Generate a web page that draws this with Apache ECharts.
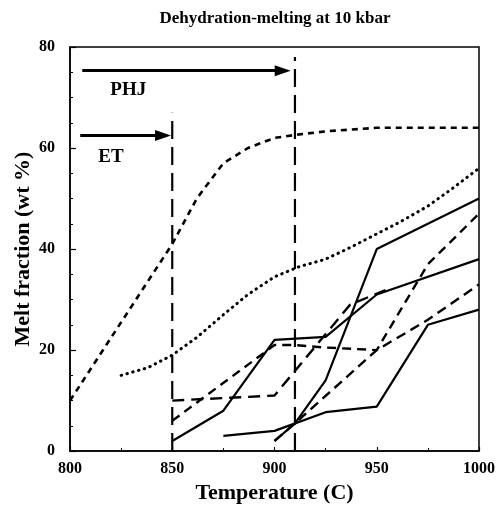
<!DOCTYPE html>
<html>
<head>
<meta charset="utf-8">
<script src="https://cdn.jsdelivr.net/npm/echarts@6/dist/echarts.min.js"></script>
<style>html,body{margin:0;padding:0;background:#fff}#c{width:498px;height:509px}</style>
</head>
<body>
<div id="c"></div>
<script>
// ---- data ----
const xTicks = [800, 850, 900, 950, 1000];
const yTicks = [0, 20, 40, 60, 80];
// short-dashed upper curve
const c1T = [800, 850, 862, 875, 887, 900, 912, 925, 950, 1000];
const c1V = [10, 41, 50, 57, 60, 62, 62.7, 63.3, 64, 64];
// dotted curve
const c2T = [825, 838, 850, 862, 875, 887, 900, 912, 925, 937, 950, 962, 975, 987, 1000];
const c2V = [15, 16.5, 19, 22.5, 27, 31, 34.5, 36.5, 38, 40.3, 43, 45.5, 48.5, 52, 56];
// solid curves
const s1T = [850, 875, 900, 925, 950, 1000];
const s1V = [2, 8, 22, 22.6, 31, 38];
const s2T = [900, 910, 925, 950, 1000];
const s2V = [2, 5.5, 14, 40, 50];
const s3T = [875, 900, 925, 950, 975, 1000];
const s3V = [3, 4, 7.7, 8.8, 25, 28];
// dashed curves
const d1T = [850, 900, 910, 925, 950, 975, 1000];
const d1V = [6, 21, 21, 20.5, 20, 37, 47];
const d2T = [850, 900, 937, 955];
const d2V = [10, 11, 29, 32];
const d3T = [900, 910, 950, 975, 1000];
const d3V = [2, 5.5, 20, 26, 33];
// vertical reference lines
const v1T = [850, 850], v1V = [0, 67];
const v2T = [910, 910], v2V = [0, 78];
// arrows and their labels
const arrowPHJ = [[806, 75.3], [904, 75.3]];
const arrowET = [[805, 62.5], [845.5, 62.5]];
const labelNames = ['PHJ', 'ET'];
const labelT = [828.5, 820];
const labelV = [71.5, 58.2];

const pairs = (t, v) => t.map((x, i) => [x, v[i]]);
const FONT = 'Liberation Serif';

function lineSeries(t, v, width, type, cap) {
  return {
    type: 'line', data: pairs(t, v), symbol: 'none', silent: true,
    lineStyle: { color: '#000', width: width, type: type, cap: cap || 'butt' },
    z: 3
  };
}

const chart = echarts.init(document.getElementById('c'), null, { renderer: 'canvas' });
chart.setOption({
  animation: false,
  backgroundColor: '#fff',
  title: {
    text: 'Dehydration-melting at 10 kbar',
    left: 270, textAlign: 'center', top: 5,
    textStyle: { fontFamily: FONT, fontWeight: 'bold', fontSize: 17, color: '#000' }
  },
  grid: { left: 70, right: 19, top: 47, bottom: 56, show: true, borderColor: '#000', borderWidth: 1.5, backgroundColor: 'transparent' },
  xAxis: {
    type: 'value', min: xTicks[0], max: xTicks[xTicks.length - 1], interval: 50,
    name: 'Temperature (C)', nameLocation: 'middle', nameGap: 25,
    nameTextStyle: { fontFamily: FONT, fontWeight: 'bold', fontSize: 22, color: '#000' },
    axisLine: { lineStyle: { color: '#000', width: 1.5 } },
    axisTick: { inside: true, length: 4, lineStyle: { color: '#000', width: 1.2 } },
    minorTick: { show: true, splitNumber: 2, length: 3, lineStyle: { color: '#000', width: 1 } },
    splitLine: { show: false },
    axisLabel: { fontFamily: FONT, fontWeight: 'bold', fontSize: 16, color: '#000', margin: 10, formatter: v => String(v) }
  },
  yAxis: {
    type: 'value', min: yTicks[0], max: yTicks[yTicks.length - 1], interval: 20,
    name: 'Melt fraction (wt %)', nameLocation: 'middle', nameGap: 36, nameMoveOverlap: false,
    nameTextStyle: { fontFamily: FONT, fontWeight: 'bold', fontSize: 22, color: '#000' },
    axisLine: { lineStyle: { color: '#000', width: 1.5 } },
    axisTick: { inside: true, length: 6, lineStyle: { color: '#000', width: 1.2 } },
    minorTick: { show: true, splitNumber: 4, length: 3, lineStyle: { color: '#000', width: 1 } },
    splitLine: { show: false },
    axisLabel: { fontFamily: FONT, fontWeight: 'bold', fontSize: 16, color: '#000', margin: 15 }
  },
  series: [
    lineSeries(c1T, c1V, 2.6, [6, 5]),
    lineSeries(c2T, c2V, 3, [0.5, 5.5], 'round'),
    lineSeries(s1T, s1V, 2.2, 'solid'),
    lineSeries(s2T, s2V, 2.2, 'solid'),
    lineSeries(s3T, s3V, 2.2, 'solid'),
    lineSeries(d1T, d1V, 2.4, [9, 6]),
    lineSeries(d2T, d2V, 2.4, [12, 7]),
    lineSeries(d3T, d3V, 2.4, [10, 6]),
    lineSeries(v1T, v1V, 2.2, [18, 8]),
    lineSeries(v2T, v2V, 2.2, [18, 8]),
    {
      type: 'scatter', data: labelT.map((x, i) => ({ value: [x, labelV[i]], name: labelNames[i] })),
      symbolSize: 0, silent: true, itemStyle: { opacity: 1, color: '#000' },
      label: { show: true, position: 'inside', formatter: p => p.name, fontFamily: FONT, fontWeight: 'bold', fontSize: 19, color: '#000', opacity: 1 },
      markLine: {
        silent: true, symbol: ['none', 'triangle'], symbolSize: [11, 16],
        label: { show: false },
        lineStyle: { color: '#000', width: 2.8, type: 'solid', opacity: 1 },
        itemStyle: { color: '#000' },
        data: [
          [{ coord: arrowPHJ[0] }, { coord: arrowPHJ[1] }],
          [{ coord: arrowET[0] }, { coord: arrowET[1] }]
        ]
      }
    }
  ]
});
</script>
</body>
</html>
